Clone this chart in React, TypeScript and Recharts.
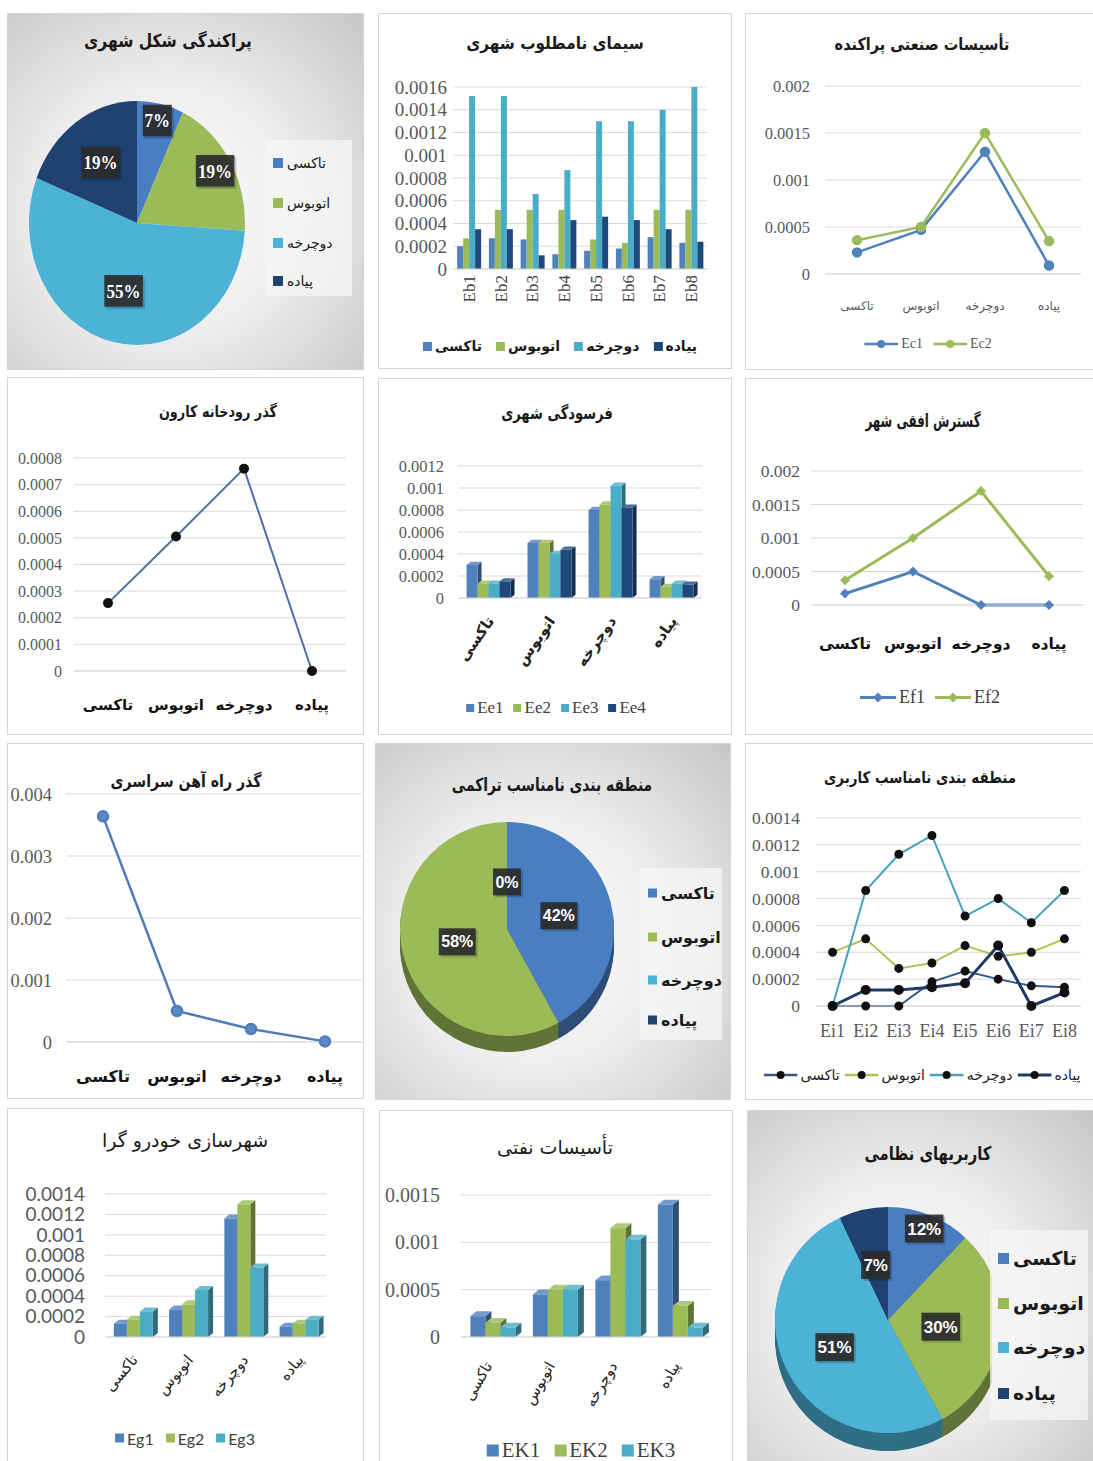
import React from "react";
import { ComposedChart, Bar, Line, XAxis, YAxis, CartesianGrid, PieChart, Pie, Cell } from "recharts";

// ─── Data ────────────────────────────────────────────────────────────────────

const modes = ["تاکسی", "اتوبوس", "دوچرخه", "پیاده"];

// پراکندگی شکل شهری (percent)
const shapeShares = [7, 19, 55, 19];

// سیمای نامطلوب شهری
const ebCats = ["Eb1", "Eb2", "Eb3", "Eb4", "Eb5", "Eb6", "Eb7", "Eb8"];
const ebTaxi = [0.0002, 0.00027, 0.00026, 0.00013, 0.00016, 0.00018, 0.00028, 0.00023];
const ebBus = [0.00027, 0.00052, 0.00052, 0.00052, 0.00026, 0.00023, 0.00052, 0.00052];
const ebBike = [0.00152, 0.00152, 0.00066, 0.00087, 0.0013, 0.0013, 0.0014, 0.0016];
const ebWalk = [0.00035, 0.00035, 0.00012, 0.00043, 0.00046, 0.00043, 0.00035, 0.00024];
const ebTicks = [0, 0.0002, 0.0004, 0.0006, 0.0008, 0.001, 0.0012, 0.0014, 0.0016];

// تأسیسات صنعتی پراکنده
const ec1 = [0.00023, 0.00047, 0.0013, 0.00009];
const ec2 = [0.00036, 0.0005, 0.0015, 0.00035];
const ecTicks = [0, 0.0005, 0.001, 0.0015, 0.002];

// گذر رودخانه کارون
const karun = [0.000255, 0.000505, 0.00076, 0];
const karunTicks = [0, 0.0001, 0.0002, 0.0003, 0.0004, 0.0005, 0.0006, 0.0007, 0.0008];

// فرسودگی شهری
const ee1 = [0.0003, 0.0005, 0.0008, 0.00017];
const ee2 = [0.00013, 0.0005, 0.00085, 0.0001];
const ee3 = [0.00013, 0.0004, 0.00102, 0.00013];
const ee4 = [0.00015, 0.00044, 0.00082, 0.00012];
const eeTicks = [0, 0.0002, 0.0004, 0.0006, 0.0008, 0.001, 0.0012];

// گسترش افقی شهر
const ef1 = [0.00017, 0.0005, 0, 0];
const ef2 = [0.00037, 0.001, 0.0017, 0.00043];
const efTicks = [0, 0.0005, 0.001, 0.0015, 0.002];

// گذر راه آهن سراسری
const rail = [0.00364, 0.0005, 0.00021, 0.00001];
const railTicks = [0, 0.001, 0.002, 0.003, 0.004];

// منطقه بندی نامناسب تراکمی (percent)
const densityShares = [42, 58, 0, 0];

// منطقه بندی نامناسب کاربری
const eiCats = ["Ei1", "Ei2", "Ei3", "Ei4", "Ei5", "Ei6", "Ei7", "Ei8"];
const eiTaxi = [0, 0, 0, 0.00018, 0.00026, 0.0002, 0.00015, 0.00014];
const eiBus = [0.0004, 0.0005, 0.00028, 0.00032, 0.00045, 0.00037, 0.0004, 0.0005];
const eiBike = [0, 0.00086, 0.00113, 0.00127, 0.00067, 0.0008, 0.00062, 0.00086];
const eiWalk = [0, 0.00012, 0.00012, 0.00014, 0.00017, 0.00045, 0, 0.0001];
const eiTicks = [0, 0.0002, 0.0004, 0.0006, 0.0008, 0.001, 0.0012, 0.0014];

// شهرسازی خودرو گرا
const eg1 = [0.00013, 0.00027, 0.00116, 0.0001];
const eg2 = [0.00017, 0.00032, 0.0013, 0.00013];
const eg3 = [0.00025, 0.00046, 0.00068, 0.00017];
const egTicks = [0, 0.0002, 0.0004, 0.0006, 0.0008, 0.001, 0.0012, 0.0014];

// تأسیسات نفتی
const ek1 = [0.00022, 0.00045, 0.0006, 0.0014];
const ek2 = [0.00015, 0.0005, 0.00115, 0.00033];
const ek3 = [0.0001, 0.0005, 0.00103, 0.0001];
const ekTicks = [0, 0.0005, 0.001, 0.0015];

// کاربریهای نظامی (percent)
const militaryShares = [12, 30, 51, 7];

// ─── Styling ─────────────────────────────────────────────────────────────────

const SERIF = "'Liberation Serif', 'Times New Roman', serif";
const FA = "'DejaVu Sans', sans-serif";
const SANS = "Lato, 'Liberation Sans', sans-serif";

const BLUE = "#4f81bd";
const GREEN = "#9bbb59";
const CYAN = "#4bacc6";
const NAVY = "#1f497d";
const PIE_COLORS = ["#4a7ec2", "#9bbb59", "#4cb2d6", "#1f4271"];

const GRID = "#d9d9d9";
const TICK = "#595959";
const SHADED = "radial-gradient(ellipse at 45% 55%, #fdfdfd 0%, #eeeeee 45%, #c6c6c6 100%)";

const RAD = Math.PI / 180;
const fmt = (v: number) => (v === 0 ? "0" : String(+v.toFixed(5)));

function shade(hex: string, f: number) {
  const n = parseInt(hex.slice(1), 16);
  const ch = [(n >> 16) & 255, (n >> 8) & 255, n & 255].map((c) =>
    f <= 1 ? Math.round(c * f) : Math.round(c + (255 - c) * (f - 1))
  );
  return `rgb(${ch[0]},${ch[1]},${ch[2]})`;
}

const rows = (cats: string[], series: Record<string, number[]>) =>
  cats.map((name, i) => {
    const r: any = { name };
    Object.keys(series).forEach((k) => (r[k] = series[k][i]));
    return r;
  });

// ─── Small pieces ────────────────────────────────────────────────────────────

function Frame({ x, y, w, h, shaded }: any) {
  return (
    <div
      style={{
        position: "absolute",
        left: x,
        top: y,
        width: w,
        height: h,
        boxSizing: "border-box",
        border: "1px solid #d4d4d4",
        background: shaded ? SHADED : "#fff",
      }}
    />
  );
}

// titles use a narrow horizontal squeeze: the original face is much narrower than DejaVu
function Title({ x, y, text, size = 17, weight = "bold", sx = 1 }: any) {
  return (
    <div
      style={{
        position: "absolute",
        left: x,
        top: y,
        transform: `translate(-50%, -50%) scaleX(${sx})`,
        whiteSpace: "nowrap",
        direction: "rtl",
        fontFamily: FA,
        fontSize: size,
        fontWeight: weight,
        color: "#1a1a1a",
      }}
    >
      {text}
    </div>
  );
}

function LegendRow({ cx, cy, items, kind, size, family, weight = "normal", color = "#404040", gap = 12, sq = 9, icon = 32 }: any) {
  return (
    <div
      style={{
        position: "absolute",
        left: cx,
        top: cy,
        transform: "translate(-50%, -50%)",
        display: "flex",
        alignItems: "center",
        gap,
        whiteSpace: "nowrap",
        fontFamily: family,
        fontSize: size,
        fontWeight: weight,
        color,
      }}
    >
      {items.map((it: any) => (
        <div key={it.label} style={{ display: "flex", alignItems: "center", gap: 3 }}>
          {kind === "square" ? (
            <span style={{ display: "inline-block", width: sq, height: sq, background: it.color }} />
          ) : (
            <svg width={icon} height={12}>
              <line x1={0} y1={6} x2={icon} y2={6} stroke={it.color} strokeWidth={it.width ?? 2.5} />
              {kind === "diamond" ? (
                <path d={`M${icon / 2} 1 L${icon / 2 + 5} 6 L${icon / 2} 11 L${icon / 2 - 5} 6 Z`} fill={it.color} />
              ) : (
                <circle cx={icon / 2} cy={6} r={4} fill={it.dot ?? it.color} />
              )}
            </svg>
          )}
          <span>{it.label}</span>
        </div>
      ))}
    </div>
  );
}

function PieLegend({ x, y, w, h, items, rowY, size, weight = "normal", sq = 10 }: any) {
  return (
    <div style={{ position: "absolute", left: x, top: y, width: w, height: h, background: "rgba(245,245,245,0.75)" }}>
      {items.map((it: any, i: number) => (
        <div
          key={it.label}
          style={{
            position: "absolute",
            left: 8,
            top: rowY[i],
            transform: "translateY(-50%)",
            display: "flex",
            alignItems: "center",
            gap: 4,
            whiteSpace: "nowrap",
            fontFamily: FA,
            fontSize: size,
            fontWeight: weight,
            color: "#1a1a1a",
          }}
        >
          <span style={{ display: "inline-block", width: sq, height: sq, background: it.color }} />
          <span>{it.label}</span>
        </div>
      ))}
    </div>
  );
}

function RotTick(props: any) {
  const { x, y, payload, angle, off, size, family, weight, color } = props;
  const tx = x + off[0];
  const ty = y + off[1];
  return (
    <text
      x={tx}
      y={ty}
      dy="0.35em"
      transform={`rotate(${angle} ${tx} ${ty})`}
      textAnchor="end"
      fontSize={size}
      fontFamily={family}
      fontWeight={weight}
      fill={color}
    >
      {payload.value}
    </text>
  );
}

function Bar3D(props: any) {
  const { x, y, width, height, fill, depth } = props;
  if (!(height > 0) || !(width > 0)) return null;
  const d = depth;
  const e = depth * 0.8;
  return (
    <g>
      <polygon
        points={`${x + width},${y} ${x + width + d},${y - e} ${x + width + d},${y + height - e} ${x + width},${y + height}`}
        fill={shade(fill, 0.62)}
      />
      <polygon points={`${x},${y} ${x + d},${y - e} ${x + width + d},${y - e} ${x + width},${y}`} fill={shade(fill, 1.2)} />
      <rect x={x} y={y} width={width} height={height} fill={fill} />
    </g>
  );
}

function Diamond(props: any) {
  const { cx, cy, fill, index } = props;
  if (cx == null || cy == null) return <g key={index} />;
  return <path key={index} d={`M${cx} ${cy - 5} L${cx + 5} ${cy} L${cx} ${cy + 5} L${cx - 5} ${cy} Z`} fill={fill} />;
}

// Shared cartesian frame. `top` is where the plot's top gridline should sit minus 5px.
function Plot({ left, top, width, height, yw, xh, mr, data, ticks, yTick, yGap, xTick, xGap, gap, lines, children }: any) {
  const pad = lines ? (width - mr - yw) / (2 * data.length) : 0;
  return (
    <div style={{ position: "absolute", left, top: top - 12 }}>
      <ComposedChart
        width={width}
        height={height + 12}
        data={data}
        margin={{ top: 17, right: mr, bottom: 0, left: 0 }}
        barGap={0}
        barCategoryGap={gap}
        style={{ overflow: "visible" }}
      >
        <CartesianGrid vertical={false} stroke={GRID} />
        <XAxis
          dataKey="name"
          interval={0}
          tickLine={false}
          tickSize={0}
          tickMargin={xGap}
          height={xh}
          padding={{ left: pad, right: pad }}
          axisLine={{ stroke: GRID }}
          tick={xTick}
        />
        <YAxis
          type="number"
          domain={[0, ticks[ticks.length - 1]]}
          ticks={ticks}
          interval={0}
          tickFormatter={fmt}
          width={yw}
          axisLine={false}
          tickLine={false}
          tickSize={0}
          tickMargin={yGap}
          tick={yTick}
        />
        {children}
      </ComposedChart>
    </div>
  );
}

function PieBlock({ left, top, w, h, cx, cy, r, values, depth, factors, labelFamily, labelSize, stretch = 1 }: any) {
  const data = modes.map((m, i) => ({ name: m, value: values[i] }));
  const layers: number[] = [];
  for (let o = depth; o > 0; o -= 2) layers.push(o);
  const firstZero = values.indexOf(0);

  const renderLabel = (p: any) => {
    const value = p.value ?? p.payload?.value;
    const idx = p.index;
    if (value === 0 && idx !== firstZero) return null;
    const rr = r * factors[idx];
    const x = p.cx + rr * Math.cos(-p.midAngle * RAD);
    const y = p.cy + rr * Math.sin(-p.midAngle * RAD);
    const txt = `${value}%`;
    const bw = txt.length * labelSize * 0.56 + 10;
    const bh = labelSize + 11;
    return (
      <g key={`lab-${idx}`}>
        <rect x={x - bw / 2 + 2} y={y - bh / 2 + 2} width={bw} height={bh} fill="#000" fillOpacity={0.18} />
        <rect x={x - bw / 2} y={y - bh / 2} width={bw} height={bh} fill="#2b2b2b" fillOpacity={0.9} />
        <text x={x} y={y} dy="0.35em" textAnchor="middle" fill="#fff" fontSize={labelSize} fontFamily={labelFamily} fontWeight="bold">
          {txt}
        </text>
      </g>
    );
  };

  return (
    <div style={{ position: "absolute", left, top, transform: `scaleY(${stretch})`, transformOrigin: `${cx}px ${cy}px` }}>
      <PieChart width={w} height={h} margin={{ top: 0, right: 0, bottom: 0, left: 0 }}>
        {layers.map((o) => (
          <Pie
            key={`side-${o}`}
            data={data}
            dataKey="value"
            cx={cx}
            cy={cy + o}
            outerRadius={r}
            startAngle={90}
            endAngle={-270}
            stroke="none"
            isAnimationActive={false}
          >
            {data.map((d, i) => (
              <Cell key={d.name} fill={shade(PIE_COLORS[i], 0.62)} />
            ))}
          </Pie>
        ))}
        <Pie
          data={data}
          dataKey="value"
          cx={cx}
          cy={cy}
          outerRadius={r}
          startAngle={90}
          endAngle={-270}
          stroke="none"
          labelLine={false}
          label={renderLabel}
          isAnimationActive={false}
        >
          {data.map((d, i) => (
            <Cell key={d.name} fill={PIE_COLORS[i]} />
          ))}
        </Pie>
      </PieChart>
    </div>
  );
}

// ─── App ─────────────────────────────────────────────────────────────────────

export default function App() {
  const pieItems = modes.map((m, i) => ({ label: m, color: PIE_COLORS[i] }));
  const modeSquares = [
    { label: modes[0], color: BLUE },
    { label: modes[1], color: GREEN },
    { label: modes[2], color: CYAN },
    { label: modes[3], color: NAVY },
  ];

  const ebData = rows(ebCats, { taxi: ebTaxi, bus: ebBus, bike: ebBike, walk: ebWalk });
  const ecData = rows(modes, { ec1, ec2 });
  const karunData = rows(modes, { v: karun });
  const eeData = rows(modes, { ee1, ee2, ee3, ee4 });
  const efData = rows(modes, { ef1, ef2 });
  const railData = rows(modes, { v: rail });
  const eiData = rows(eiCats, { taxi: eiTaxi, bus: eiBus, bike: eiBike, walk: eiWalk });
  const egData = rows(modes, { eg1, eg2, eg3 });
  const ekData = rows(modes, { ek1, ek2, ek3 });

  const yt = (size: number, family = SERIF) => ({ fill: TICK, fontSize: size, fontFamily: family });
  const xfa = (size: number, weight = "bold", fill = "#111") => ({ fill, fontSize: size, fontFamily: FA, fontWeight: weight });

  return (
    <div style={{ position: "absolute", left: 0, top: 0, width: 1093, height: 1461, background: "#fff", overflow: "hidden" }}>
      {/* frames */}
      <Frame x={7} y={13} w={357} h={357} shaded />
      <Frame x={378} y={13} w={354} h={356} />
      <Frame x={745} y={13} w={350} h={357} />
      <Frame x={7} y={377} w={357} h={358} />
      <Frame x={378} y={378} w={354} h={357} />
      <Frame x={745} y={378} w={350} h={357} />
      <Frame x={7} y={743} w={357} h={356} />
      <Frame x={375} y={743} w={356} h={357} shaded />
      <Frame x={745} y={743} w={350} h={357} />
      <Frame x={7} y={1108} w={357} h={356} />
      <Frame x={379} y={1110} w={354} h={354} />
      <Frame x={747} y={1110} w={348} h={354} shaded />

      {/* 1 — پراکندگی شکل شهری */}
      <Title x={168} y={40} text="پراکندگی شکل شهری" size={18} sx={0.86} />
      <PieBlock left={7} top={13} w={260} h={357} cx={130} cy={210} r={108} values={shapeShares} depth={0} stretch={1.13}
        factors={[0.86, 0.84, 0.57, 0.6]} labelFamily={SERIF} labelSize={17} />
      <PieLegend x={265} y={140} w={87} h={156} items={pieItems} rowY={[23, 63, 103, 141]} size={14} />

      {/* 2 — سیمای نامطلوب شهری */}
      <Title x={555} y={43} text="سیمای نامطلوب شهری" size={17} sx={0.9} />
      <Plot left={383} top={82} width={329} height={232} yw={70} xh={45} mr={5} data={ebData} ticks={ebTicks}
        yTick={yt(19)} yGap={6} xGap={0} gap="13%"
        xTick={(p: any) => <RotTick {...p} angle={-90} off={[0, 6]} size={17} family={SERIF} weight="normal" color="#404040" />}>
        <Bar dataKey="taxi" fill={BLUE} isAnimationActive={false} />
        <Bar dataKey="bus" fill={GREEN} isAnimationActive={false} />
        <Bar dataKey="bike" fill={CYAN} isAnimationActive={false} />
        <Bar dataKey="walk" fill={NAVY} isAnimationActive={false} />
      </Plot>
      <LegendRow cx={560} cy={346} items={modeSquares} kind="square" size={14} family={FA} weight="bold" color="#1a1a1a" gap={14} />

      {/* 3 — تأسیسات صنعتی پراکنده */}
      <Title x={922} y={44} text="تأسیسات صنعتی پراکنده" size={17} sx={0.85} />
      <Plot left={750} top={81} width={336} height={233} yw={75} xh={40} mr={5} data={ecData} ticks={ecTicks} lines
        yTick={yt(16.5)} yGap={15} xGap={27} xTick={xfa(12, "normal", TICK)} gap="10%">
        <Line type="linear" dataKey="ec1" stroke={BLUE} strokeWidth={2.5} dot={{ r: 4, fill: BLUE, stroke: BLUE }} activeDot={false} isAnimationActive={false} />
        <Line type="linear" dataKey="ec2" stroke={GREEN} strokeWidth={2.5} dot={{ r: 4, fill: GREEN, stroke: GREEN }} activeDot={false} isAnimationActive={false} />
      </Plot>
      <LegendRow cx={928} cy={344} items={[{ label: "Ec1", color: BLUE }, { label: "Ec2", color: GREEN }]} kind="line" size={14} family={SERIF} color={TICK} gap={10} icon={34} />

      {/* 4 — گذر رودخانه کارون */}
      <Title x={218} y={411} text="گذر رودخانه کارون" size={16} sx={0.8} />
      <Plot left={7} top={453} width={344} height={263} yw={67} xh={45} mr={5} data={karunData} ticks={karunTicks} lines
        yTick={yt(16)} yGap={12} xGap={28} xTick={xfa(15)} gap="10%">
        <Line type="linear" dataKey="v" stroke="#4a6fa8" strokeWidth={2} dot={{ r: 4, fill: "#111", stroke: "#111" }} activeDot={false} isAnimationActive={false} />
      </Plot>

      {/* 5 — فرسودگی شهری */}
      <Title x={557} y={413} text="فرسودگی شهری" size={17} sx={0.77} />
      <Plot left={380} top={461} width={327} height={212} yw={78} xh={75} mr={5} data={eeData} ticks={eeTicks}
        yTick={yt(16.5)} yGap={14} xGap={0} gap="14%"
        xTick={(p: any) => <RotTick {...p} angle={-55} off={[2, 20]} size={15} family={FA} weight="bold" color="#222" />}>
        <Bar dataKey="ee1" fill={BLUE} shape={(p: any) => <Bar3D {...p} depth={4} />} isAnimationActive={false} />
        <Bar dataKey="ee2" fill={GREEN} shape={(p: any) => <Bar3D {...p} depth={4} />} isAnimationActive={false} />
        <Bar dataKey="ee3" fill={CYAN} shape={(p: any) => <Bar3D {...p} depth={4} />} isAnimationActive={false} />
        <Bar dataKey="ee4" fill={NAVY} shape={(p: any) => <Bar3D {...p} depth={4} />} isAnimationActive={false} />
      </Plot>
      <LegendRow cx={556} cy={708} kind="square" size={17} family={SERIF} color="#404040" gap={10} sq={8}
        items={[{ label: "Ee1", color: BLUE }, { label: "Ee2", color: GREEN }, { label: "Ee3", color: CYAN }, { label: "Ee4", color: NAVY }]} />

      {/* 6 — گسترش افقی شهر */}
      <Title x={923} y={420} text="گسترش افقی شهر" size={18} sx={0.66} />
      <Plot left={745} top={466} width={343} height={189} yw={66} xh={50} mr={5} data={efData} ticks={efTicks} lines
        yTick={yt(17.5)} yGap={11} xGap={33} xTick={xfa(15.5)} gap="10%">
        <Line type="linear" dataKey="ef1" stroke={BLUE} strokeWidth={3} dot={(p: any) => <Diamond {...p} fill={BLUE} />} activeDot={false} isAnimationActive={false} />
        <Line type="linear" dataKey="ef2" stroke={GREEN} strokeWidth={3} dot={(p: any) => <Diamond {...p} fill={GREEN} />} activeDot={false} isAnimationActive={false} />
      </Plot>
      <LegendRow cx={930} cy={697} items={[{ label: "Ef1", color: BLUE, width: 3 }, { label: "Ef2", color: GREEN, width: 3 }]} kind="diamond" size={18} family={SERIF} color="#404040" gap={10} icon={36} />

      {/* 7 — گذر راه آهن سراسری */}
      <Plot left={5} top={789} width={359} height={298} yw={61} xh={45} mr={2} data={railData} ticks={railTicks} lines
        yTick={yt(18.5)} yGap={14} xGap={29} xTick={xfa(16)} gap="10%">
        <Line type="linear" dataKey="v" stroke="#4f7bb8" strokeWidth={2.5} dot={{ r: 5, fill: "#5b88c6", stroke: "#4f7bb8" }} activeDot={false} isAnimationActive={false} />
      </Plot>
      <Title x={186} y={781} text="گذر راه آهن سراسری" size={17} sx={0.83} />

      {/* 8 — منطقه بندی نامناسب تراکمی */}
      <Title x={552} y={784} text="منطقه بندی نامناسب تراکمی" size={18} sx={0.77} />
      <PieBlock left={375} top={743} w={265} h={357} cx={132} cy={186} r={107} values={densityShares} depth={16}
        factors={[0.5, 0.48, 0.44, 0.44]} labelFamily="'Liberation Sans', sans-serif" labelSize={16} />
      <PieLegend x={640} y={868} w={82} h={172} items={pieItems} rowY={[25, 69, 112, 152]} size={16} weight="bold" sq={9} />

      {/* 9 — منطقه بندی نامناسب کاربری */}
      <Title x={920} y={777} text="منطقه بندی نامناسب کاربری" size={16} sx={0.84} />
      <Plot left={748} top={813} width={338} height={228} yw={68} xh={35} mr={5} data={eiData} ticks={eiTicks} lines
        yTick={yt(17.5)} yGap={16} xGap={18} xTick={{ fill: TICK, fontSize: 18, fontFamily: SERIF }} gap="10%">
        <Line type="linear" dataKey="taxi" stroke="#34598a" strokeWidth={2} dot={{ r: 3.5, fill: "#111", stroke: "#111" }} activeDot={false} isAnimationActive={false} />
        <Line type="linear" dataKey="bus" stroke="#b5bf52" strokeWidth={2} dot={{ r: 3.5, fill: "#111", stroke: "#111" }} activeDot={false} isAnimationActive={false} />
        <Line type="linear" dataKey="bike" stroke="#46a2bc" strokeWidth={2} dot={{ r: 3.5, fill: "#111", stroke: "#111" }} activeDot={false} isAnimationActive={false} />
        <Line type="linear" dataKey="walk" stroke="#1f3a63" strokeWidth={3} dot={{ r: 3.5, fill: "#111", stroke: "#111" }} activeDot={false} isAnimationActive={false} />
      </Plot>
      <LegendRow cx={922} cy={1075} kind="line" size={14} family={FA} color="#222" gap={5} icon={34}
        items={[
          { label: modes[0], color: "#34598a", dot: "#111" },
          { label: modes[1], color: "#b5bf52", dot: "#111" },
          { label: modes[2], color: "#46a2bc", dot: "#111" },
          { label: modes[3], color: "#1f3a63", dot: "#111", width: 3 },
        ]} />

      {/* 10 — شهرسازی خودرو گرا */}
      <Title x={185} y={1140} text="شهرسازی خودرو گرا" size={19} weight="normal" sx={1} />
      <Plot left={17} top={1189} width={314} height={218} yw={88} xh={70} mr={5} data={egData} ticks={egTicks}
        yTick={yt(19, SANS)} yGap={20} xGap={0} gap="16%"
        xTick={(p: any) => <RotTick {...p} angle={-50} off={[2, 20]} size={15} family={FA} weight="normal" color="#222" />}>
        <Bar dataKey="eg1" fill={BLUE} shape={(p: any) => <Bar3D {...p} depth={5} />} isAnimationActive={false} />
        <Bar dataKey="eg2" fill={GREEN} shape={(p: any) => <Bar3D {...p} depth={5} />} isAnimationActive={false} />
        <Bar dataKey="eg3" fill={CYAN} shape={(p: any) => <Bar3D {...p} depth={5} />} isAnimationActive={false} />
      </Plot>
      <LegendRow cx={185} cy={1438} kind="square" size={16} family={SANS} color="#404040" gap={12} sq={9}
        items={[{ label: "Eg1", color: BLUE }, { label: "Eg2", color: GREEN }, { label: "Eg3", color: CYAN }]} />

      {/* 11 — تأسیسات نفتی */}
      <Title x={555} y={1147} text="تأسیسات نفتی" size={19} weight="normal" />
      <Plot left={379} top={1190} width={337} height={222} yw={82} xh={75} mr={5} data={ekData} ticks={ekTicks}
        yTick={yt(20)} yGap={21} xGap={0} gap="15%"
        xTick={(p: any) => <RotTick {...p} angle={-60} off={[-4, 26]} size={15} family={FA} weight="normal" color="#222" />}>
        <Bar dataKey="ek1" fill={BLUE} shape={(p: any) => <Bar3D {...p} depth={6} />} isAnimationActive={false} />
        <Bar dataKey="ek2" fill={GREEN} shape={(p: any) => <Bar3D {...p} depth={6} />} isAnimationActive={false} />
        <Bar dataKey="ek3" fill={CYAN} shape={(p: any) => <Bar3D {...p} depth={6} />} isAnimationActive={false} />
      </Plot>
      <LegendRow cx={581} cy={1450} kind="square" size={21} family={SERIF} color="#404040" gap={14} sq={12}
        items={[{ label: "EK1", color: BLUE }, { label: "EK2", color: GREEN }, { label: "EK3", color: CYAN }]} />

      {/* 12 — کاربریهای نظامی */}
      <Title x={928} y={1153} text="کاربریهای نظامی" size={19} sx={0.78} />
      <PieBlock left={747} top={1110} w={245} h={351} cx={141} cy={210} r={113} values={militaryShares} depth={18}
        factors={[0.87, 0.47, 0.53, 0.5]} labelFamily="'Liberation Sans', sans-serif" labelSize={17} />
      <PieLegend x={990} y={1230} w={98} h={190} items={pieItems} rowY={[28, 73, 117, 163]} size={19} weight="bold" sq={11} />
    </div>
  );
}
